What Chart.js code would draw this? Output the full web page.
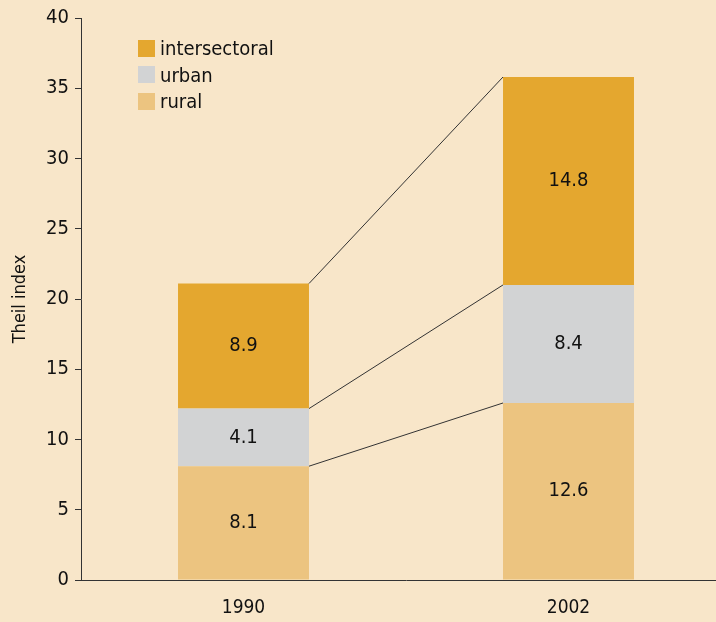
<!DOCTYPE html>
<html>
<head>
<meta charset="utf-8">
<script src="https://cdn.jsdelivr.net/npm/chart.js@4"></script>
<style>
  html, body { margin: 0; padding: 0; background: #f8e6c9; overflow: hidden; }
  #wrap { position: relative; width: 731px; height: 622px; }
  #legend { position: absolute; left: 138px; top: 35px; font-family: "Liberation Sans Narrow", "DejaVu Sans Condensed", sans-serif; font-stretch: condensed; font-size: 20px; color: #111111; }
  #legend div { display: flex; align-items: center; height: 26.5px; }
  #legend span.box { display: inline-block; width: 17px; height: 17px; margin-right: 5px; }
</style>
</head>
<body>
<div id="wrap">
  <canvas id="theilChart" width="731" height="622"></canvas>
  <div id="legend"></div>
</div>
<script>
// ==================== DATA ====================
const years = ['1990', '2002'];
const rural = [8.1, 12.6];
const urban = [4.1, 8.4];
const intersectoral = [8.9, 14.8];
const yTicks = [0, 5, 10, 15, 20, 25, 30, 35, 40];

const FONT = '"Liberation Sans Narrow", "DejaVu Sans Condensed", sans-serif';
const INK = '#111111';

const series = [
    { label: 'rural', data: rural, color: '#ecc480' },
    { label: 'urban', data: urban, color: '#d2d3d4' },
    { label: 'intersectoral', data: intersectoral, color: '#e4a72f' }
];

// Légende (ordre inverse de l'empilement)
const legendEl = document.getElementById('legend');
series.slice().reverse().forEach(s => {
    const row = document.createElement('div');
    row.innerHTML = '<span class="box" style="background:' + s.color + '"></span>' + s.label;
    legendEl.appendChild(row);
});

// Lignes reliant les sommets des segments + étiquettes de valeurs
const connectorPlugin = {
    id: 'connectors',
    afterDatasetsDraw(chart) {
        const ctx = chart.ctx;
        const y = chart.scales.y;
        const metaFirst = chart.getDatasetMeta(0);
        const b0 = metaFirst.data[0];
        const b1 = metaFirst.data[1];
        const x0 = b0.x + b0.width / 2;
        const x1 = b1.x - b1.width / 2;

        ctx.save();
        ctx.strokeStyle = '#333333';
        ctx.lineWidth = 1;
        let cum0 = 0, cum1 = 0;
        series.forEach(s => {
            cum0 += s.data[0];
            cum1 += s.data[1];
            ctx.beginPath();
            ctx.moveTo(x0, y.getPixelForValue(cum0));
            ctx.lineTo(x1, y.getPixelForValue(cum1));
            ctx.stroke();
        });

        ctx.fillStyle = INK;
        ctx.font = '20px ' + FONT;
        ctx.textAlign = 'center';
        ctx.textBaseline = 'middle';
        series.forEach((s, i) => {
            chart.getDatasetMeta(i).data.forEach((bar, j) => {
                const mid = (bar.y + bar.base) / 2;
                ctx.fillText(s.data[j].toFixed(1), bar.x, mid);
            });
        });
        ctx.restore();
    }
};

new Chart(document.getElementById('theilChart'), {
    type: 'bar',
    data: {
        labels: years,
        datasets: series.map(s => ({
            label: s.label,
            data: s.data,
            backgroundColor: s.color,
            borderWidth: 0,
            barPercentage: 0.403,
            categoryPercentage: 1.0
        }))
    },
    options: {
        responsive: false,
        animation: false,
        layout: { padding: { top: 16, left: 0, right: 0, bottom: 0 } },
        plugins: {
            legend: { display: false },
            tooltip: { enabled: false }
        },
        scales: {
            x: {
                stacked: true,
                grid: { display: false },
                border: { display: true, color: '#333333', width: 1 },
                ticks: { color: INK, font: { family: FONT, size: 19 }, padding: 9 },
                afterFit: scale => { scale.height = 42; }
            },
            y: {
                stacked: true,
                min: 0,
                max: 40,
                afterBuildTicks: scale => { scale.ticks = yTicks.map(v => ({ value: v })); },
                grid: { drawOnChartArea: false, drawTicks: true, tickLength: 6, color: '#333333' },
                border: { display: true, color: '#333333', width: 1 },
                ticks: { color: INK, font: { family: FONT, size: 20 }, padding: 6 },
                title: { display: true, text: 'Theil index', color: INK, font: { family: FONT, size: 18 }, padding: { top: 10, bottom: 0 } },
                afterFit: scale => { scale.width = 81; }
            }
        }
    },
    plugins: [connectorPlugin]
});
</script>
</body>
</html>
